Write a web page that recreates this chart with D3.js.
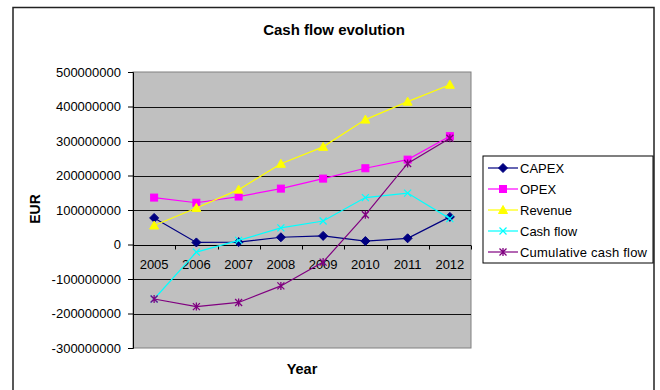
<!DOCTYPE html>
<html>
<head>
<meta charset="utf-8">
<script src="https://cdn.jsdelivr.net/npm/d3@7"></script>
<style>
  body { margin: 0; background: #fff; }
  text { font-family: "Liberation Sans", Arial, sans-serif; }
</style>
</head>
<body>
<svg id="chart" width="660" height="390"></svg>
<script>
const years = ["2005", "2006", "2007", "2008", "2009", "2010", "2011", "2012"];
const capex = [77e6, 6e6, 7e6, 21e6, 25e6, 10e6, 18e6, 80e6];
const opex = [136e6, 121e6, 139e6, 162e6, 191e6, 221e6, 246e6, 314e6];
const revenue = [55e6, 106e6, 159e6, 234e6, 283e6, 362e6, 414e6, 463e6];
const cashFlow = [-158e6, -22e6, 12e6, 48e6, 68e6, 136e6, 149e6, 75e6];
const cumulative = [-158e6, -180e6, -168e6, -120e6, -51e6, 86e6, 235e6, 308e6];
const yTicks = [-300e6, -200e6, -100e6, 0, 100e6, 200e6, 300e6, 400e6, 500e6];

const series = [
  { name: "CAPEX", values: capex, color: "#000080", marker: "diamond" },
  { name: "OPEX", values: opex, color: "#FF00FF", marker: "square" },
  { name: "Revenue", values: revenue, color: "#FFFF00", marker: "triangle" },
  { name: "Cash flow", values: cashFlow, color: "#00FFFF", marker: "x" },
  { name: "Cumulative cash flow", values: cumulative, color: "#800080", marker: "star" }
];

const svg = d3.select("#chart");

// chart frame
svg.append("rect")
  .attr("x", 13).attr("y", 7.5)
  .attr("width", 641).attr("height", 400)
  .attr("fill", "#fff")
  .attr("stroke", "#222")
  .attr("stroke-width", 1.5);

const plot = { left: 133, top: 72, right: 471, bottom: 348 };

const x = d3.scaleBand().domain(years).range([plot.left, plot.right]);
const y = d3.scaleLinear().domain([-300e6, 500e6]).range([plot.bottom, plot.top]);

svg.append("rect")
  .attr("x", plot.left).attr("y", plot.top)
  .attr("width", plot.right - plot.left).attr("height", plot.bottom - plot.top)
  .attr("fill", "#C0C0C0")
  .attr("stroke", "#808080");

// gridlines
svg.append("g")
  .selectAll("line")
  .data(yTicks.filter(d => d !== 500e6 && d !== -300e6))
  .join("line")
  .attr("x1", plot.left).attr("x2", plot.right)
  .attr("y1", d => Math.round(y(d)) + 0.5).attr("y2", d => Math.round(y(d)) + 0.5)
  .attr("stroke", "#111")
  .attr("stroke-width", 1);

// y axis
const yAxis = svg.append("g")
  .attr("transform", `translate(${plot.left},0)`)
  .call(d3.axisLeft(y).tickValues(yTicks).tickSize(5).tickFormat(d => String(d)));
yAxis.select(".domain").attr("stroke", "#000");
yAxis.selectAll(".tick line").attr("stroke", "#000");
yAxis.selectAll("text")
  .attr("fill", "#000")
  .style("font-size", "13px")
  .attr("x", -12);

// x axis along zero
const xAxis = svg.append("g")
  .attr("transform", `translate(0,${Math.round(y(0)) + 0.5})`);
xAxis.append("line")
  .attr("x1", plot.left).attr("x2", plot.right)
  .attr("stroke", "#000");
xAxis.selectAll(".tk")
  .data(years)
  .join("line")
  .attr("x1", d => Math.round(x(d) + x.bandwidth()) + 0.5)
  .attr("x2", d => Math.round(x(d) + x.bandwidth()) + 0.5)
  .attr("y1", 0).attr("y2", 4)
  .attr("stroke", "#000");
xAxis.selectAll("text")
  .data(years)
  .join("text")
  .attr("x", d => x(d) + x.bandwidth() / 2)
  .attr("y", 23)
  .attr("text-anchor", "middle")
  .style("font-size", "13px")
  .text(d => d);

// titles
svg.append("text")
  .attr("x", 334).attr("y", 35)
  .attr("text-anchor", "middle")
  .style("font-size", "15px").style("font-weight", "bold")
  .text("Cash flow evolution");

svg.append("text")
  .attr("x", 302).attr("y", 374)
  .attr("text-anchor", "middle")
  .style("font-size", "14.5px").style("font-weight", "bold")
  .text("Year");

svg.append("text")
  .attr("transform", "translate(40,209) rotate(-90)")
  .attr("text-anchor", "middle")
  .style("font-size", "14px").style("font-weight", "bold")
  .text("EUR");

function drawMarker(g, type, color) {
  if (type === "diamond") {
    g.append("path").attr("d", "M0,-4.5L4.5,0L0,4.5L-4.5,0Z").attr("fill", color).attr("stroke", color);
  } else if (type === "square") {
    g.append("rect").attr("x", -3.5).attr("y", -3.5).attr("width", 7).attr("height", 7)
      .attr("fill", color).attr("stroke", color);
  } else if (type === "triangle") {
    g.append("path").attr("d", "M0,-4.5L4.5,3.5L-4.5,3.5Z").attr("fill", color).attr("stroke", color);
  } else if (type === "x") {
    g.append("path").attr("d", "M-3.5,-3.5L3.5,3.5M-3.5,3.5L3.5,-3.5")
      .attr("stroke", color).attr("stroke-width", 1.2).attr("fill", "none");
  } else if (type === "star") {
    g.append("path").attr("d", "M-3.5,-3.5L3.5,3.5M-3.5,3.5L3.5,-3.5M0,-4L0,4")
      .attr("stroke", color).attr("stroke-width", 1.3).attr("fill", "none");
  }
}

const line = d3.line()
  .x((d, i) => x(years[i]) + x.bandwidth() / 2)
  .y(d => y(d));

series.forEach(s => {
  const g = svg.append("g");
  g.append("path")
    .datum(s.values)
    .attr("d", line)
    .attr("fill", "none")
    .attr("stroke", s.color)
    .attr("stroke-width", 1.2);
  s.values.forEach((v, i) => {
    const m = g.append("g")
      .attr("transform", `translate(${x(years[i]) + x.bandwidth() / 2},${y(v)})`);
    drawMarker(m, s.marker, s.color);
  });
});

// legend
const legend = svg.append("g");
legend.append("rect")
  .attr("x", 483).attr("y", 156)
  .attr("width", 170).attr("height", 107)
  .attr("fill", "#fff")
  .attr("stroke", "#000");

series.forEach((s, i) => {
  const ly = 168 + i * 21;
  const row = legend.append("g");
  row.append("line")
    .attr("x1", 488).attr("x2", 518)
    .attr("y1", ly).attr("y2", ly)
    .attr("stroke", s.color).attr("stroke-width", 1.2);
  drawMarker(row.append("g").attr("transform", `translate(503,${ly})`), s.marker, s.color);
  row.append("text")
    .attr("x", 520).attr("y", ly + 4.5)
    .style("font-size", "13px")
    .attr("textLength", s.name === "Cumulative cash flow" ? 127 : null)
    .text(s.name);
});
</script>
</body>
</html>
